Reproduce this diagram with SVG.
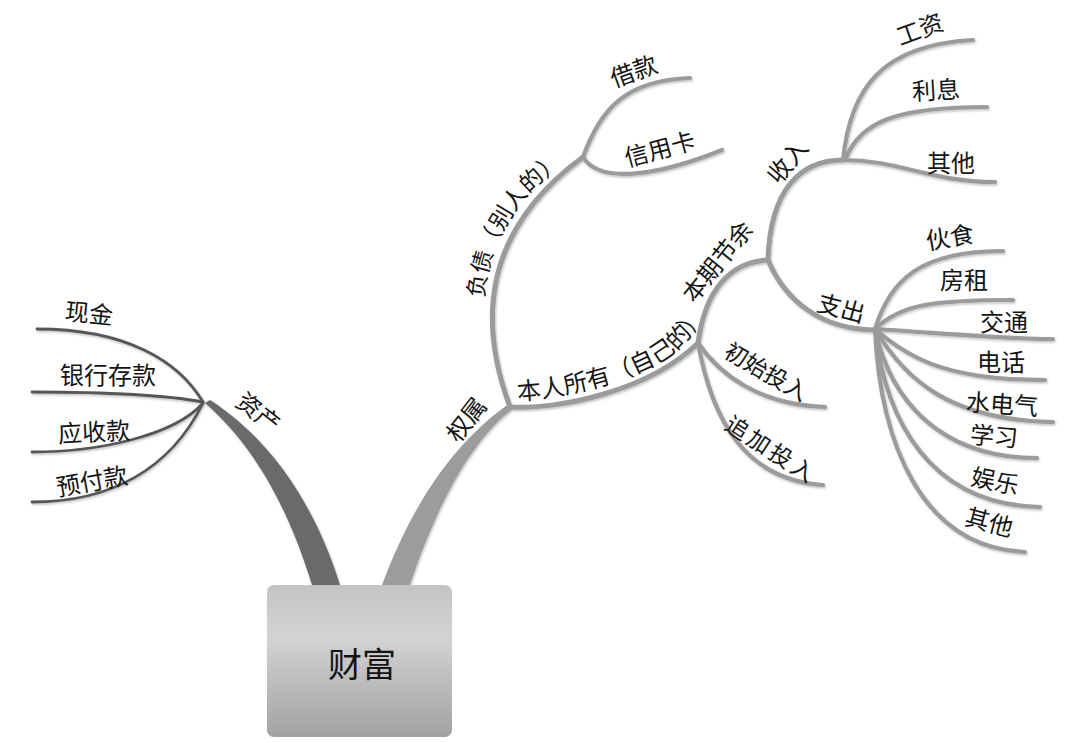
<svg xmlns="http://www.w3.org/2000/svg" width="1075" height="743" viewBox="0 0 1075 743">
<style>
text{font-family:"Noto Sans CJK SC","Noto Sans",sans-serif;fill:#141414;font-size:24px;text-anchor:middle}
.ln{fill:none;stroke:#9b9b9b;stroke-width:4.2;stroke-linecap:round}
.mid{stroke-width:5}
.dk{fill:none;stroke:#575757;stroke-width:2.8;stroke-linecap:round}
.tp{text-anchor:start}
</style>
<defs>
<linearGradient id="boxg" x1="0" y1="0" x2="0" y2="1">
<stop offset="0" stop-color="#c4c4c4"/>
<stop offset="0.35" stop-color="#d3d3d3"/>
<stop offset="0.6" stop-color="#bfbfbf"/>
<stop offset="1" stop-color="#a2a2a2"/>
</linearGradient>
<filter id="sh" x="-10%" y="-10%" width="120%" height="120%">
<feDropShadow dx="1" dy="1.5" stdDeviation="1.2" flood-color="#000" flood-opacity="0.25"/>
</filter>
<path id="p-fz" d="M 484,302 C 486,262 500,228 527,196 C 545,176 565,163 594,147"/>
<path id="p-br" d="M 518,400 C 560,398 620,385 660,362 C 685,347 699,330 706,300"/>
</defs>

<g id="connectors" filter="url(#sh)">
<path d="M 312,585 C 295,530 265,455 205,403 L 210,400 C 280,445 320,520 340,585 Z" fill="#6b6b6b"/>
<path d="M 382,585 C 410,510 450,445 510,403 L 514,408 C 470,440 435,510 410,585 Z" fill="#9c9c9c"/>
<path class="dk" d="M 37,329 C 125,329 178,360 203,402"/>
<path class="dk" d="M 32,392 C 100,392 160,394 203,402"/>
<path class="dk" d="M 32,452 C 100,452 175,435 203,403"/>
<path class="dk" d="M 32,502 C 110,502 170,470 203,403"/>
<path class="ln mid" d="M 510,407 C 485,340 470,240 583,157"/>
<path class="ln" d="M 583,157 C 600,110 625,80 690,78"/>
<path class="ln" d="M 583,157 C 600,185 660,175 722,150"/>
<path class="ln mid" d="M 510,407 C 560,410 650,390 698,343"/>
<path class="ln mid" d="M 698,343 C 705,290 730,262 768,260"/>
<path class="ln" d="M 698,343 C 720,375 760,405 825,407"/>
<path class="ln" d="M 698,343 C 712,420 745,480 823,485"/>
<path class="ln mid" d="M 768,260 C 770,190 800,160 843,160"/>
<path class="ln mid" d="M 768,260 C 785,300 820,330 877,330"/>
<path class="ln" d="M 843,160 C 850,90 880,45 973,40"/>
<path class="ln" d="M 845,160 C 860,120 900,107 987,107"/>
<path class="ln" d="M 843,160 C 900,160 930,182 995,182"/>
<path class="ln" d="M 875,329 C 890,280 920,251 1003,251"/>
<path class="ln" d="M 875,329 C 900,305 930,300 1013,300"/>
<path class="ln" d="M 875,329 C 940,333 1000,339 1053,339"/>
<path class="ln" d="M 875,329 C 910,360 950,380 1045,380"/>
<path class="ln" d="M 875,329 C 905,380 950,420 1053,422"/>
<path class="ln" d="M 875,329 C 890,400 940,458 1037,458"/>
<path class="ln" d="M 875,329 C 885,420 930,505 1040,507"/>
<path class="ln" d="M 875,329 C 880,440 920,548 1025,552"/>
</g>

<g id="n-root">
<rect x="267" y="585" width="185" height="152" rx="7" fill="url(#boxg)"/>
<text x="362" y="677" style="font-size:34px">财富</text>
</g>

<g id="n-zichan"><text transform="translate(258,413) rotate(38)" y="8">资产</text></g>
<g id="n-xianjin"><text transform="translate(89,314) rotate(6)" y="8">现金</text></g>
<g id="n-yinhang"><text transform="translate(108,376)" y="8">银行存款</text></g>
<g id="n-yingshou"><text transform="translate(94,433) rotate(-3)" y="8">应收款</text></g>
<g id="n-yufu"><text transform="translate(92,482) rotate(-10)" y="8">预付款</text></g>

<g id="n-quanshu"><text transform="translate(467,420) rotate(-52)" y="8">权属</text></g>
<g id="n-fuzhai"><text class="tp" style="font-size:23px"><textPath href="#p-fz" startOffset="4">负债（别人的）</textPath></text></g>
<g id="n-jiekuan"><text transform="translate(634,72) rotate(-20)" y="8">借款</text></g>
<g id="n-xinyongka"><text transform="translate(660,150) rotate(-15)" y="8">信用卡</text></g>
<g id="n-benren"><text class="tp"><textPath href="#p-br" startOffset="0">本人所有（自己的）</textPath></text></g>
<g id="n-benqi"><text transform="translate(718,262) rotate(-51)" y="8">本期节余</text></g>
<g id="n-chushi"><text transform="translate(766,372) rotate(30)" y="8" style="font-size:23px">初始投入</text></g>
<g id="n-zhuijia"><text transform="translate(771,450) rotate(33)" y="8" style="font-size:23px;letter-spacing:3px">追加投入</text></g>

<g id="n-shouru"><text transform="translate(788,162) rotate(-50)" y="8">收入</text></g>
<g id="n-gongzi"><text transform="translate(920,30) rotate(-20)" y="8">工资</text></g>
<g id="n-lixi"><text transform="translate(936,91) rotate(-3)" y="8">利息</text></g>
<g id="n-qita1"><text transform="translate(951,164)" y="8">其他</text></g>

<g id="n-zhichu"><text transform="translate(841,309) rotate(15)" y="8">支出</text></g>
<g id="n-huoshi"><text transform="translate(950,238) rotate(-10)" y="8">伙食</text></g>
<g id="n-fangzu"><text transform="translate(964,281)" y="8">房租</text></g>
<g id="n-jiaotong"><text transform="translate(1004,323)" y="8">交通</text></g>
<g id="n-dianhua"><text transform="translate(1001,363)" y="8">电话</text></g>
<g id="n-shuidianqi"><text transform="translate(1002,405) rotate(4)" y="8">水电气</text></g>
<g id="n-xuexi"><text transform="translate(994,437) rotate(5)" y="8">学习</text></g>
<g id="n-yule"><text transform="translate(995,482) rotate(12)" y="8">娱乐</text></g>
<g id="n-qita2"><text transform="translate(989,523) rotate(15)" y="8">其他</text></g>
</svg>
